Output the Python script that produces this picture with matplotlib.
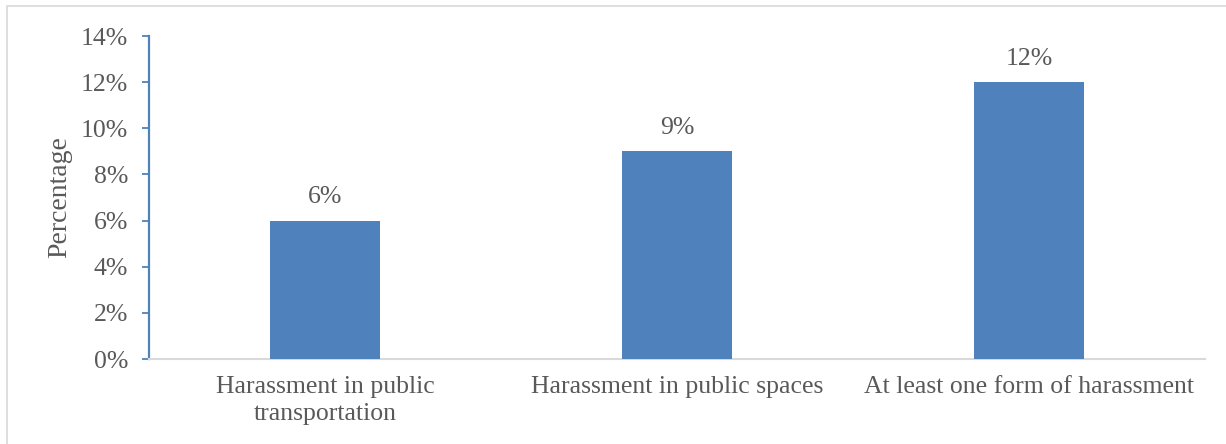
import matplotlib
matplotlib.use("Agg")
import matplotlib.pyplot as plt
from matplotlib.patches import Rectangle
from matplotlib.ticker import PercentFormatter

categories = ["Harassment in public\ntransportation", "Harassment in public spaces", "At least one form of harassment"]
values = [6, 9, 12]
yticks = [0, 2, 4, 6, 8, 10, 12, 14]

plt.rcParams['font.family'] = ['Liberation Serif', 'DejaVu Serif']
W, H = 1226, 444
fig = plt.figure(figsize=(W/100, H/100), dpi=100)
ax = fig.add_axes([149/W, 1-359/H, (1205-149)/W, (359-36)/H])

bar_color = "#4F81BD"
text_color = "#595959"
fs = 18.5
x = list(range(len(categories)))
bars = ax.bar(x, values, width=0.3125, color=bar_color, zorder=3)
ax.set_xlim(-0.5, len(categories)-0.5)
ax.set_ylim(0, 14)
ax.set_yticks(yticks)
ax.yaxis.set_major_formatter(PercentFormatter(decimals=0))
ax.set_xticks(x)
ax.set_xticklabels(categories, fontsize=fs, color=text_color, linespacing=1.3)
ax.tick_params(axis='x', length=0, pad=12)
ax.tick_params(axis='y', length=5, width=1.3, color=bar_color, labelsize=fs, labelcolor=text_color, pad=10)
for s in ["top", "right"]:
    ax.spines[s].set_visible(False)
ax.spines["left"].set_color(bar_color)
ax.spines["left"].set_linewidth(1.6)
ax.spines["bottom"].set_color("#D9D9D9")
ax.spines["bottom"].set_linewidth(1.5)
ax.set_ylabel("Percentage", fontsize=20, color=text_color, labelpad=6)

for b, v in zip(bars, values):
    ax.annotate(f"{v}%", (b.get_x()+b.get_width()/2, v), xytext=(0, 9), textcoords="offset points",
                ha="center", va="bottom", fontsize=fs, color=text_color)

fig.patches.append(Rectangle((7/W, -0.1), 1.2, 1-6/H+0.1, transform=fig.transFigure,
                             fill=False, edgecolor="#D9D9D9", linewidth=1.2))
fig.savefig("out.png", dpi=100, facecolor="white")
